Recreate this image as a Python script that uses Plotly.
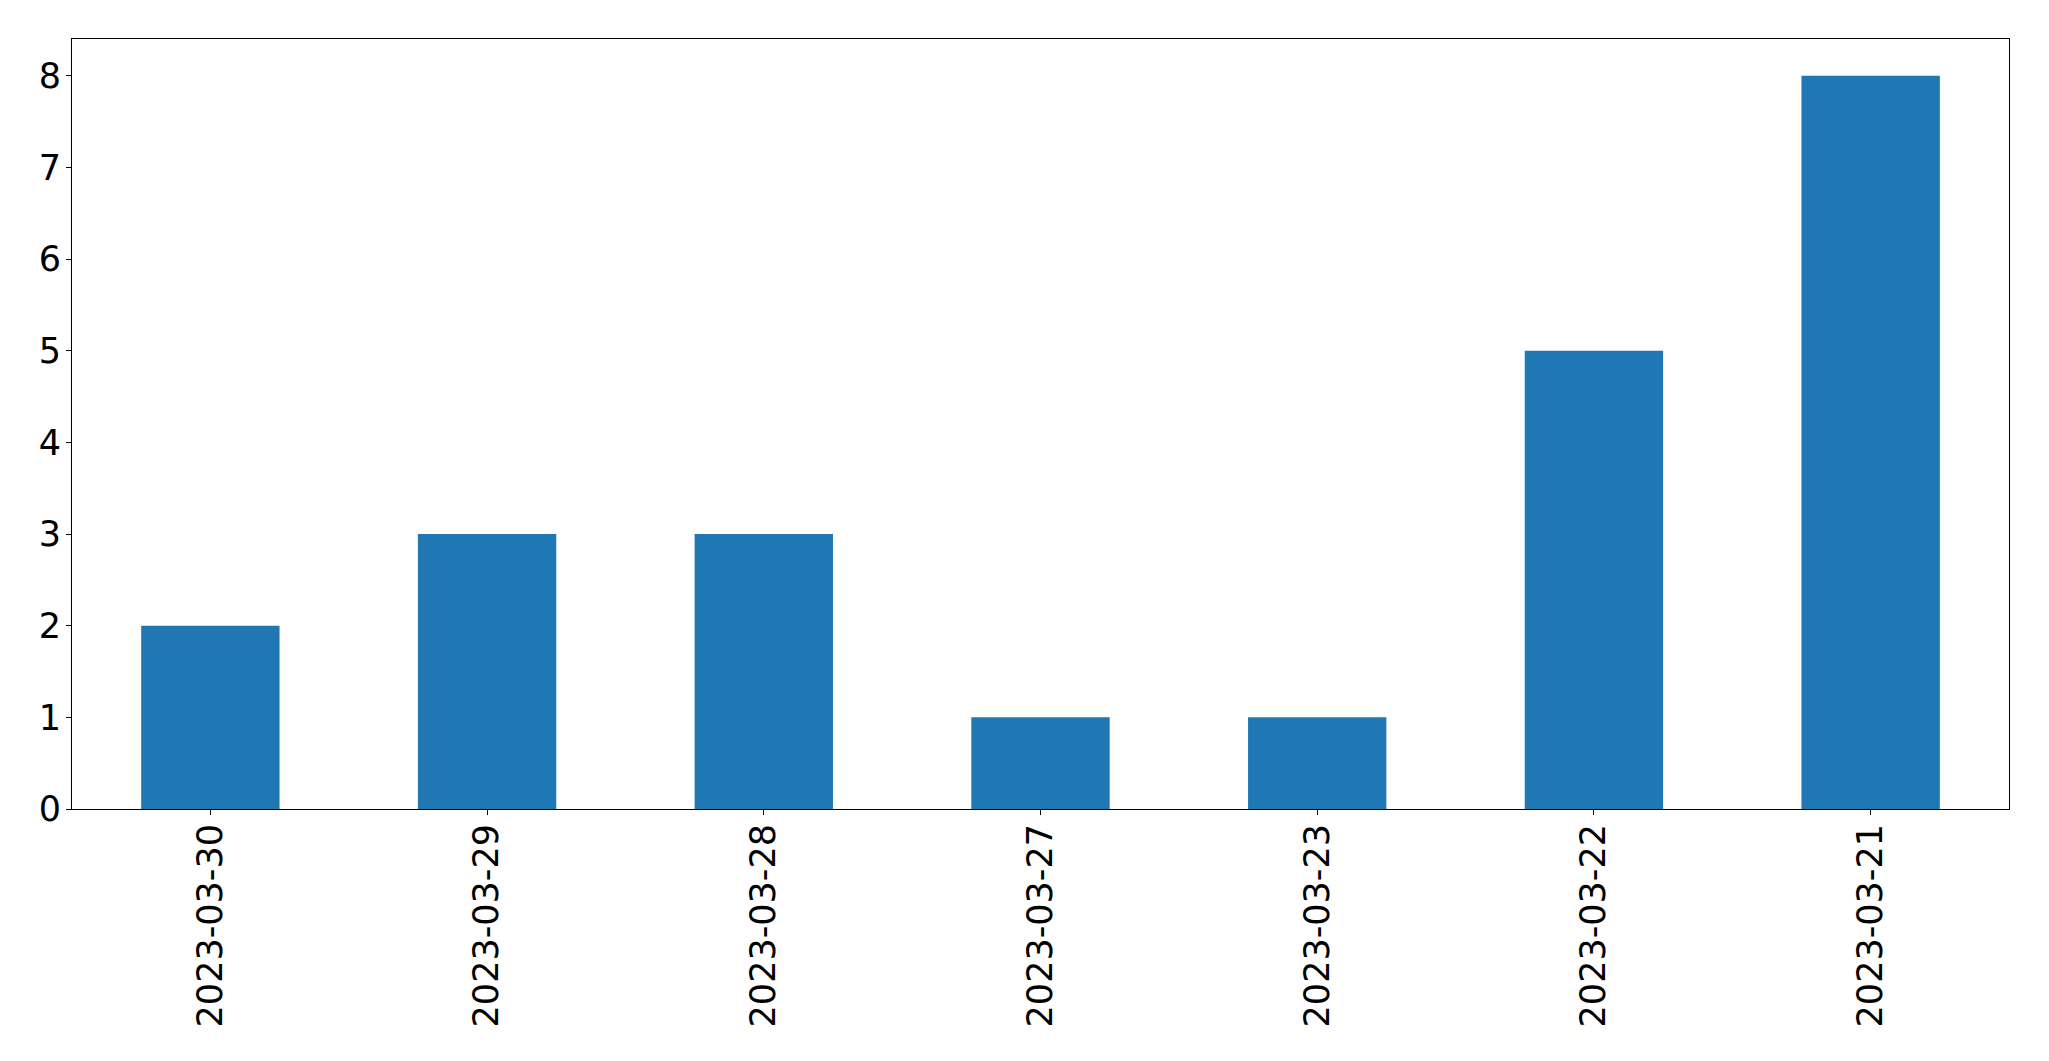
import plotly.graph_objects as go

dates = ["2023-03-30", "2023-03-29", "2023-03-28", "2023-03-27", "2023-03-23", "2023-03-22", "2023-03-21"]
counts = [2, 3, 3, 1, 1, 5, 8]

fig = go.Figure(go.Bar(x=dates, y=counts, marker=dict(color="#1f77b4", line=dict(width=0)), width=0.5))

font = dict(family="DejaVu Sans", size=35, color="black")
fig.update_layout(
    width=2041, height=1053,
    margin=dict(l=64, r=40, t=31, b=252),
    plot_bgcolor="white", paper_bgcolor="white",
    showlegend=False, bargap=0.5,
    font=font,
)
fig.update_xaxes(type="category", range=[-0.5, 6.5], tickangle=-90, ticks="outside", ticklen=5,
                 tickcolor="black", showline=True, linecolor="black", linewidth=1, mirror=True,
                 showgrid=False, tickfont=font, zeroline=False, automargin=False,
                 ticklabelstandoff=-5)
fig.update_yaxes(range=[0, 8.4], dtick=1, ticks="outside", ticklen=5, tickcolor="black",
                 showline=True, linecolor="black", linewidth=1, mirror=True, showgrid=False,
                 tickfont=font, zeroline=False, automargin=False, ticklabelstandoff=-2)
fig.write_html("out.html")
